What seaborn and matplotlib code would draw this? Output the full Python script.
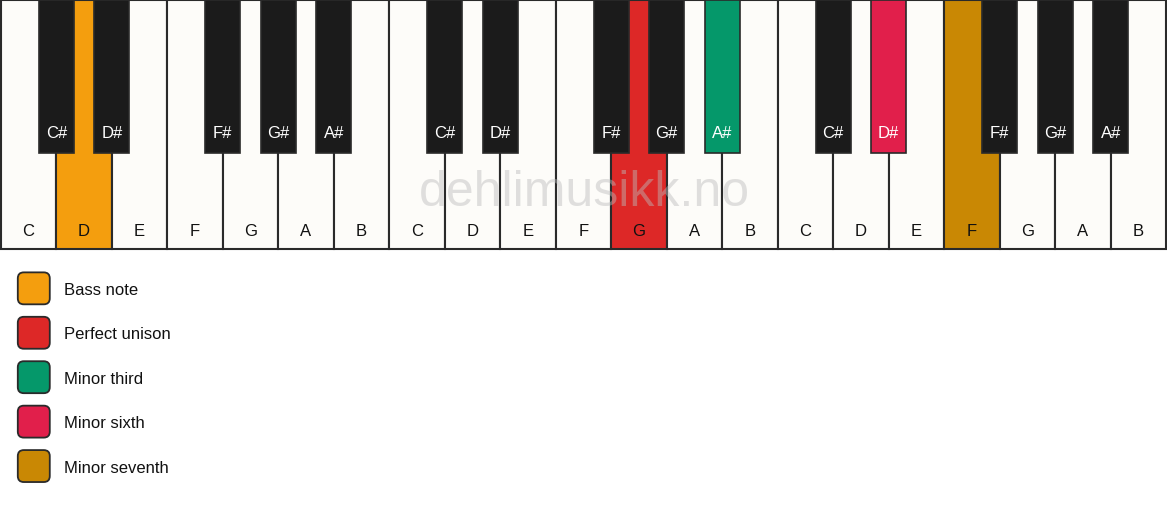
import matplotlib
matplotlib.use("Agg")
import matplotlib.pyplot as plt
import seaborn as sns
import pandas as pd
from matplotlib.patches import FancyBboxPatch

sns.set_theme(style="white")
plt.rcParams["font.family"] = ["Liberation Sans", "DejaVu Sans"]

# data
white_notes = ["C", "D", "E", "F", "G", "A", "B"] * 3
black_notes = ["C#", "D#", "F#", "G#", "A#"] * 3
black_after = [0, 1, 3, 4, 5, 7, 8, 10, 11, 12, 14, 15, 17, 18, 19]  # white key index left of each black key
white_hl = {1: "#F49E0E", 11: "#DD2827", 17: "#C98804"}
black_hl = {9: "#05986A", 11: "#E11F4B"}
legend_labels = ["Bass note", "Perfect unison", "Minor third", "Minor sixth", "Minor seventh"]
legend_colors = ["#F49E0E", "#DD2827", "#05986A", "#E11F4B", "#C98804"]

W, H = 1167, 506
kb_w = 1166
kw = kb_w / len(white_notes)
white_h = 250
black_w, black_h = 35, 153

fig = plt.figure(figsize=(W / 100, H / 100), dpi=100)
fig.patch.set_facecolor("white")
ax = fig.add_axes([0, 0, 1, 1])

WHITE = "#FDFCF9"
BLACK = "#1B1B1B"
EDGE = "#2a2a2a"

# white keys (native scale: width is relative to the key spacing)
df_w = pd.DataFrame({
    "x": [(i + 0.5) * kw for i in range(len(white_notes))],
    "h": [white_h] * len(white_notes),
    "note": white_notes,
    "key": [f"w{i}" for i in range(len(white_notes))],
})
pal_w = {f"w{i}": white_hl.get(i, WHITE) for i in range(len(white_notes))}
sns.barplot(data=df_w, x="x", y="h", hue="key", palette=pal_w, native_scale=True,
            width=1, edgecolor=EDGE, linewidth=1.5, legend=False, ax=ax,
            saturation=1, dodge=False)
for x, n in zip(df_w["x"], df_w["note"]):
    ax.text(x, 231, n, ha="center", va="center", fontsize=12, color="#111111", zorder=5)

# black keys (closest spacing between two black keys is one white key)
df_b = pd.DataFrame({
    "x": [(i + 1) * kw for i in black_after],
    "h": [black_h] * len(black_notes),
    "note": black_notes,
    "key": [f"b{j}" for j in range(len(black_notes))],
})
pal_b = {f"b{j}": black_hl.get(j, BLACK) for j in range(len(black_notes))}
sns.barplot(data=df_b, x="x", y="h", hue="key", palette=pal_b, native_scale=True,
            width=black_w / kw, edgecolor=EDGE, linewidth=1.2, legend=False, ax=ax,
            saturation=1, dodge=False)
for x, n in zip(df_b["x"], df_b["note"]):
    ax.text(x, 133, n, ha="center", va="center", fontsize=12, color="white", zorder=5)

ax.set_xlim(-0.8, W - 0.2)
ax.set_ylim(H, -0.8)
ax.axis("off")

# watermark
ax.text(584, 193, "dehlimusikk.no", ha="center", va="center", fontsize=36,
        color="#bbbbbb", alpha=0.45, zorder=6)

# legend
for k, (lab, col) in enumerate(zip(legend_labels, legend_colors)):
    cy = 289 + k * 44.5
    box = FancyBboxPatch((17, cy - 16), 32, 32, boxstyle="round,pad=0,rounding_size=6",
                         facecolor=col, edgecolor=EDGE, linewidth=1.3, zorder=5)
    ax.add_patch(box)
    ax.text(63.5, cy + 1, lab, ha="left", va="center", fontsize=12, color="#111111")

plt.savefig("out.png", dpi=100)
